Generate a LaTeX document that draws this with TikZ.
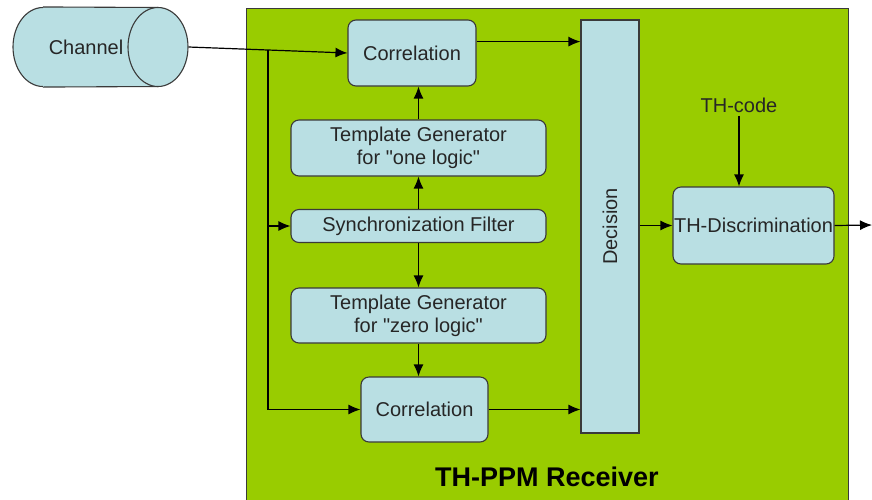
\documentclass[tikz,border=0pt]{standalone}
\usepackage{fontspec}
\setmainfont{Liberation Sans}
\usetikzlibrary{positioning,calc,arrows.meta,shapes.geometric}
\definecolor{rxgreen}{HTML}{99CC00}
\definecolor{boxblue}{HTML}{B9DFE3}
\definecolor{edge}{HTML}{3A3A3A}

\begin{document}
\begin{tikzpicture}[x=1pt,y=-1pt,
  block/.style={draw=edge,fill=boxblue,line width=1.1pt,rounded corners=8pt,inner sep=0pt,align=center,text=black!85,font=\fontsize{20}{23}\selectfont},
  wire/.style={line width=1.2pt,-{Latex[length=12pt,width=10pt]}}]
\useasboundingbox (0,0) rectangle (872,499);
\clip (0,0) rectangle (872,499);
\draw[edge,fill=rxgreen,line width=1pt] (246,8) rectangle (848,520);
% channel (cylinder)
\node[block,ellipse,minimum width=60,minimum height=79] (chanleft) at (43,47) {};
\fill[boxblue] (chanleft.north) rectangle (158,86.5);
\draw[edge,line width=1.1pt] (chanleft.north) -- (158,7.5) (chanleft.south) -- (158,86.5);
\node[block,ellipse,minimum width=60,minimum height=79] (chanend) at (158,47) {};
\node[text=black!85,font=\fontsize{20}{23}\selectfont] (chan) at (86,47) {Channel};
% receiver blocks
\node[block,minimum width=128,minimum height=66] (cor1) at (412,53) {Correlation};
\node[block,minimum width=255,minimum height=56] (tone) at (418.5,148) {Template Generator\\for \textquotedbl one logic\textquotedbl};
\node[block,minimum width=255,minimum height=33] (sync) at (418.5,226) {Synchronization Filter};
\node[block,minimum width=255,minimum height=55] (tzero) at (418.5,315.5) {Template Generator\\for \textquotedbl zero logic\textquotedbl};
\node[block,minimum width=127,minimum height=65] (cor2) at (424.5,409.5) {Correlation};
\node[block,rounded corners=0pt,minimum width=58,minimum height=413] (dec) at (610,226.5) {\rotatebox{90}{Decision}};
\node[block,minimum width=161,minimum height=77] (tdisc) at (753.5,225.5) {TH-Discrimination};
\node[font=\fontsize{20}{23}\selectfont,text=black!85] (thcode) at (739,105) {TH-code};
\node[font=\fontsize{27}{30}\selectfont\bfseries] (title) at (547,477) {TH-PPM Receiver};
\coordinate (split) at ($(chanend.east)!0.5!(cor1.west)$);
\coordinate (out) at (872,225);
% connectors
\draw[wire] (chanend.east) -- (cor1.west);
\draw[wire] (split) |- (sync.west);
\draw[wire] (split) |- (cor2.west);
\draw[wire] (sync.north) -- (tone.south);
\draw[wire] (tone.north) -- (tone.north |- cor1.south);
\draw[wire] (sync.south) -- (tzero.north);
\draw[wire] (tzero.south) -- (tzero.south |- cor2.north);
\draw[wire] ($(cor1.north east)!0.33!(cor1.south east)$) coordinate (c1out) -- (c1out -| dec.west);
\draw[wire] (cor2.east) -- (cor2.east -| dec.west);
\draw[wire] (dec.east |- tdisc.west) -- (tdisc.west);
\draw[wire] (thcode.south) -- (thcode.south |- tdisc.north);
\draw[wire] (tdisc.east) -- (out);
\end{tikzpicture}
\end{document}
